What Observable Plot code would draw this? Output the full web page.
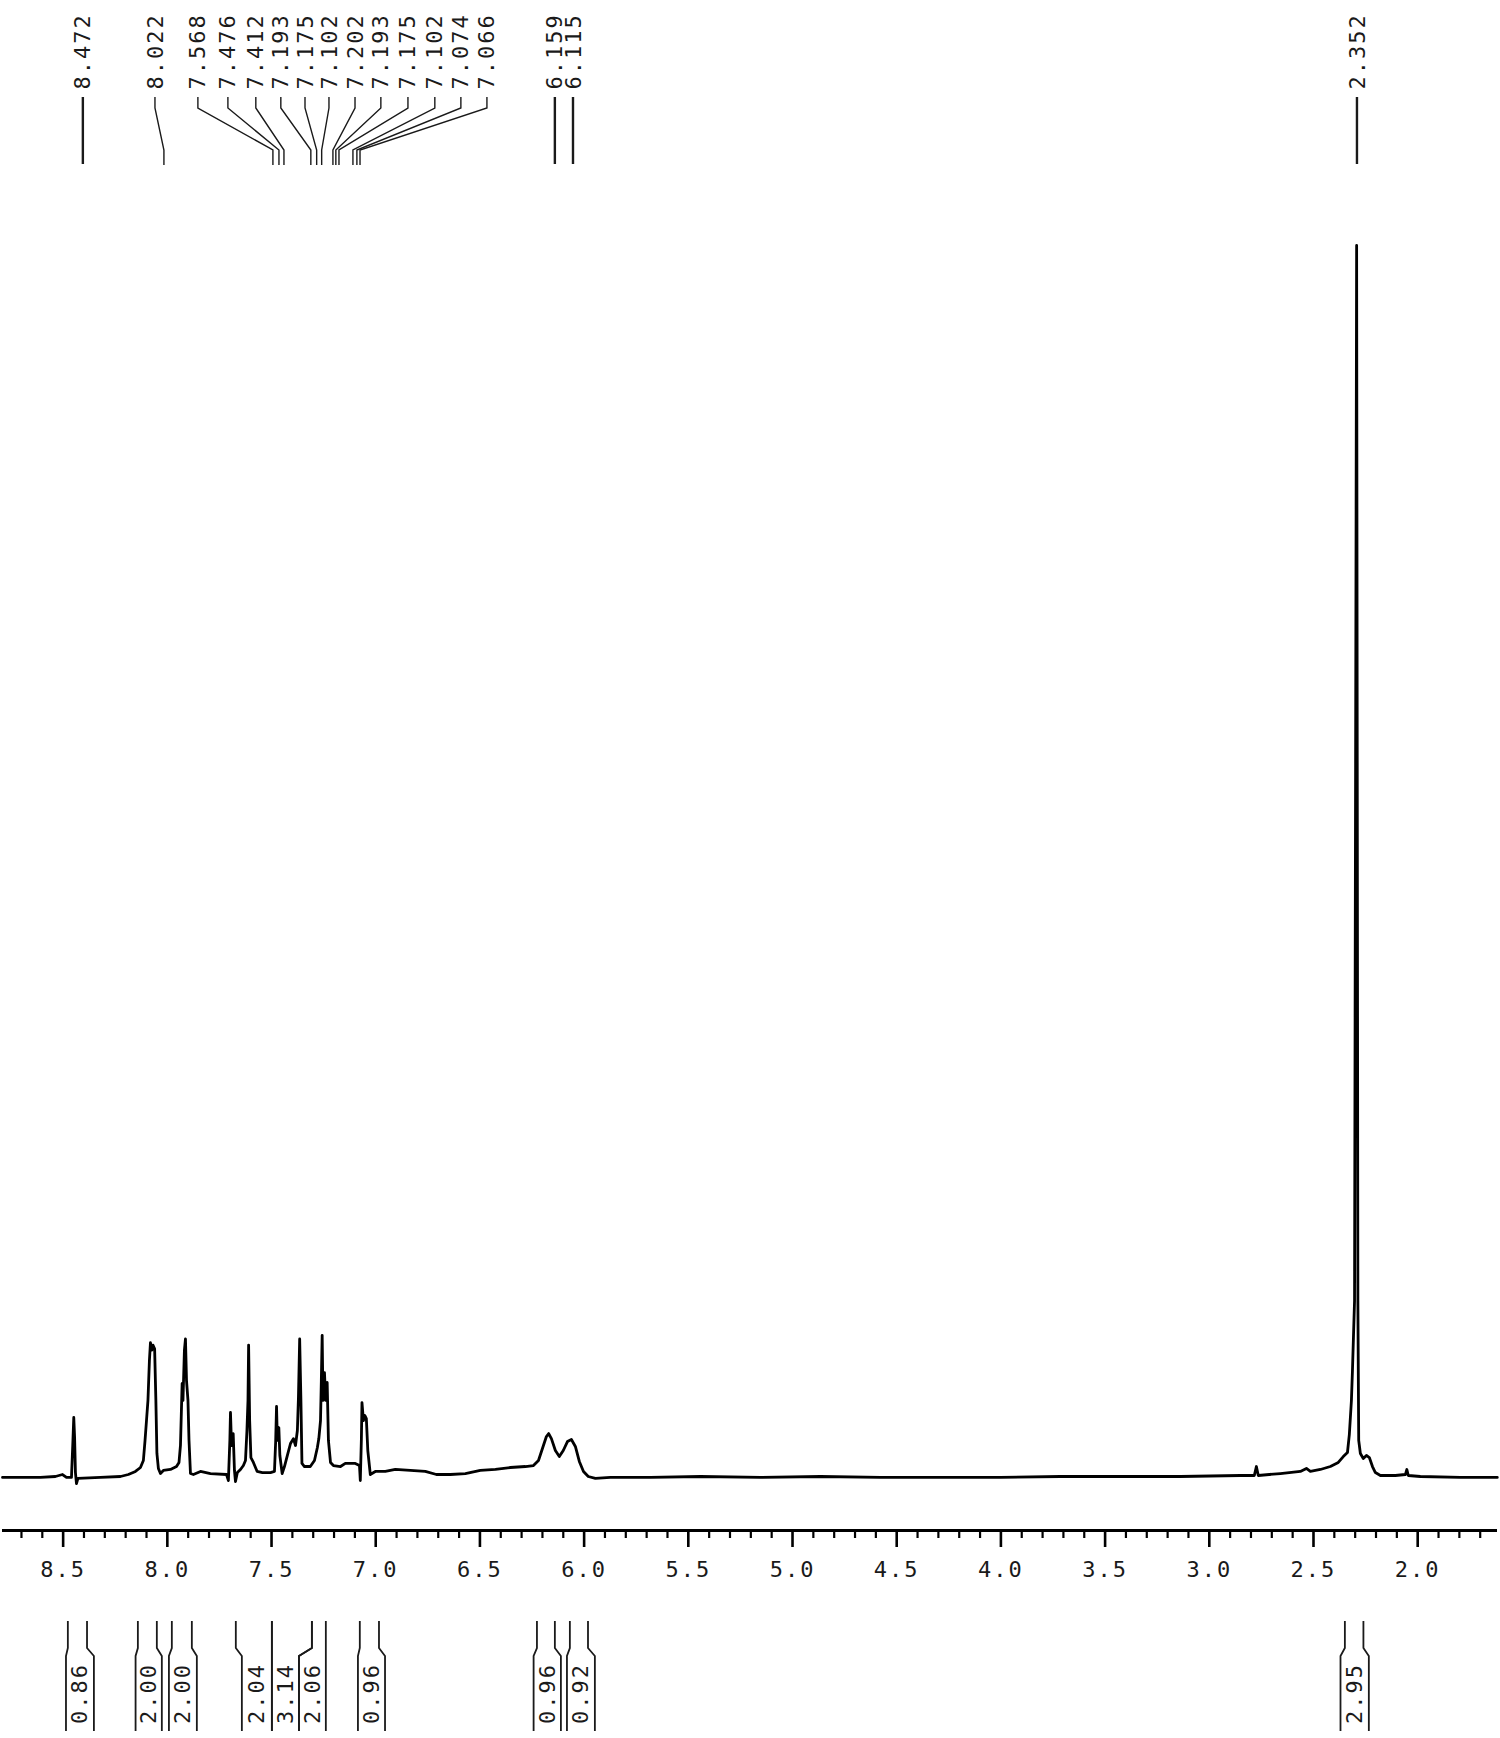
<!DOCTYPE html>
<html>
<head>
<meta charset="utf-8">
<script src="https://cdn.jsdelivr.net/npm/d3@7"></script>
<script src="https://cdn.jsdelivr.net/npm/@observablehq/plot@0.6"></script>
<style>
  html, body { margin: 0; padding: 0; background: #fff; }
  #chart svg { display: block; }
  #chart svg text { letter-spacing: 2px; }
</style>
</head>
<body>
<div id="chart"></div>
<script>
// ---- Spectrum trace (chemical shift in ppm, relative intensity) ----
const specPpm = [
  8.791, 8.609, 8.537, 8.503, 8.484, 8.460, 8.453, 8.449, 8.445, 8.441, 8.436, 8.429,
  8.321, 8.225, 8.187, 8.153, 8.129, 8.115, 8.107, 8.100, 8.093, 8.086, 8.081, 8.074,
  8.069, 8.061, 8.055, 8.050, 8.043, 8.033, 8.019, 7.985, 7.956, 7.944, 7.937, 7.929,
  7.925, 7.918, 7.913, 7.908, 7.901, 7.896, 7.889, 7.875, 7.841, 7.793, 7.716, 7.707,
  7.700, 7.697, 7.692, 7.684, 7.678, 7.673, 7.664, 7.649, 7.635, 7.625, 7.618, 7.613,
  7.610, 7.605, 7.599, 7.587, 7.569, 7.544, 7.505, 7.486, 7.480, 7.476, 7.472, 7.465,
  7.460, 7.449, 7.438, 7.424, 7.409, 7.395, 7.385, 7.376, 7.371, 7.365, 7.359, 7.354,
  7.342, 7.314, 7.294, 7.280, 7.273, 7.265, 7.261, 7.257, 7.253, 7.246, 7.240, 7.233,
  7.227, 7.217, 7.203, 7.169, 7.146, 7.098, 7.078, 7.074, 7.069, 7.066, 7.059, 7.052,
  7.045, 7.038, 7.026, 7.002, 6.954, 6.906, 6.834, 6.762, 6.709, 6.642, 6.570, 6.498,
  6.426, 6.354, 6.282, 6.243, 6.219, 6.200, 6.181, 6.170, 6.157, 6.138, 6.119, 6.100,
  6.080, 6.061, 6.042, 6.023, 6.003, 5.980, 5.946, 5.874, 5.682, 5.442, 5.154, 4.866,
  4.578, 4.291, 4.002, 3.715, 3.427, 3.139, 2.851, 2.784, 2.774, 2.765, 2.659, 2.563,
  2.534, 2.515, 2.467, 2.419, 2.381, 2.357, 2.337, 2.328, 2.318, 2.313, 2.303, 2.293,
  2.287, 2.283, 2.275, 2.261, 2.246, 2.232, 2.217, 2.203, 2.179, 2.107, 2.059, 2.052,
  2.045, 1.987, 1.795, 1.618
];
const specInt = [
  -0.16, -0.16, -0.08, 0.08, -0.16, -0.16, 2.85, 4.72, 3.09, 0.24, -0.65, -0.24,
  -0.16, -0.08, 0.08, 0.33, 0.65, 1.22, 2.85, 4.47, 6.10, 9.35, 10.8, 10.2,
  10.6, 10.3, 6.10, 1.79, 0.57, 0.16, 0.41, 0.49, 0.73, 1.06, 2.44, 7.48,
  6.10, 10.2, 11.1, 7.72, 6.10, 2.85, 0.16, 0.08, 0.33, 0.16, 0.08, -0.41,
  2.85, 5.12, 2.44, 3.41, 0.41, -0.49, 0.24, 0.49, 0.81, 1.22, 3.66, 6.10,
  10.6, 4.47, 1.46, 1.06, 0.33, 0.24, 0.24, 0.33, 2.85, 5.61, 2.85, 3.90,
  1.63, 0.16, 0.73, 1.63, 2.60, 3.00, 2.44, 3.66, 6.26, 11.1, 6.10, 0.98,
  0.73, 0.73, 1.22, 2.28, 3.00, 4.47, 7.72, 11.4, 6.10, 8.37, 6.10, 7.56,
  2.85, 1.06, 0.81, 0.73, 0.98, 0.98, 0.81, -0.41, 2.85, 5.93, 4.47, 4.88,
  4.63, 2.03, 0.08, 0.33, 0.33, 0.49, 0.41, 0.33, 0.08, 0.08, 0.16, 0.41,
  0.49, 0.65, 0.73, 0.81, 1.22, 2.20, 3.17, 3.41, 3.00, 2.03, 1.54, 2.03,
  2.76, 2.93, 2.36, 1.14, 0.33, -0.08, -0.24, -0.16, -0.16, -0.08, -0.16, -0.08,
  -0.16, -0.16, -0.16, -0.08, -0.08, -0.08, 0.00, 0.00, 0.73, 0.00, 0.16, 0.33,
  0.57, 0.33, 0.49, 0.73, 1.06, 1.54, 1.87, 3.33, 6.10, 8.54, 14.2, 100,
  14.2, 2.85, 1.79, 1.38, 1.63, 1.46, 0.73, 0.24, 0.00, 0.00, 0.08, 0.49,
  0.00, -0.08, -0.16, -0.16
];

// ---- Peak picking labels ----
const peakLabels = ["8.472", "8.022", "7.568", "7.476", "7.412", "7.193", "7.175", "7.102",
  "7.202", "7.193", "7.175", "7.102", "7.074", "7.066", "6.159", "6.115", "2.352"];
// where each label text sits (ppm on the axis)
const peakLabelPos = [8.403, 8.057, 7.851, 7.707, 7.573, 7.453, 7.337, 7.222,
  7.097, 6.973, 6.843, 6.714, 6.589, 6.464, 6.138, 6.051, 2.289];
// where each label's connector lands (ppm on the axis)
const peakTargetPos = [8.403, 8.014, 7.491, 7.462, 7.438, 7.309, 7.281, 7.257,
  7.203, 7.189, 7.174, 7.107, 7.088, 7.073, 6.138, 6.051, 2.289];

// ---- Axis ticks ----
const majorTicks = [8.5, 8.0, 7.5, 7.0, 6.5, 6.0, 5.5, 5.0, 4.5, 4.0, 3.5, 3.0, 2.5, 2.0];
const minorTicks = [8.7, 8.6, 8.4, 8.3, 8.2, 8.1, 7.9, 7.8, 7.7, 7.6, 7.4, 7.3, 7.2, 7.1,
  6.9, 6.8, 6.7, 6.6, 6.4, 6.3, 6.2, 6.1, 5.9, 5.8, 5.7, 5.6, 5.4, 5.3, 5.2, 5.1,
  4.9, 4.8, 4.7, 4.6, 4.4, 4.3, 4.2, 4.1, 3.9, 3.8, 3.7, 3.6, 3.4, 3.3, 3.2, 3.1,
  2.9, 2.8, 2.7, 2.6, 2.4, 2.3, 2.2, 2.1, 1.9, 1.8, 1.7];

// ---- Integrals ----
const integralValues = ["0.86", "2.00", "2.00", "2.04", "3.14", "2.06", "0.96", "0.96", "0.92", "2.95"];
const integralStart  = [8.475, 8.139, 7.976, 7.669, 7.496, 7.304, 7.074, 6.224, 6.066, 2.347];
const integralEnd    = [8.383, 8.048, 7.880, 7.496, 7.304, 7.237, 6.982, 6.138, 5.979, 2.258];
const integralBoxStart = [8.484, 8.150, 7.990, 7.640, 7.496, 7.366, 7.083, 6.240, 6.080, 2.368];
const integralBoxEnd   = [8.350, 8.024, 7.856, 7.496, 7.366, 7.237, 6.953, 6.109, 5.946, 2.232];

// ---- Build tables ----
const spectrum = specPpm.map((p, i) => ({ppm: p, intensity: specInt[i]}));
const labels = peakLabels.map((t, i) => ({text: t, pos: peakLabelPos[i], target: peakTargetPos[i]}));
const integrals = integralValues.map((v, i) => ({
  value: v, start: integralStart[i], end: integralEnd[i],
  boxStart: integralBoxStart[i], boxEnd: integralBoxEnd[i],
  mid: (integralBoxStart[i] + integralBoxEnd[i]) / 2
}));

const FONT = "'DejaVu Sans Mono', monospace";
const INK = "#1a1a1a";

// connectors from the peak labels to the peaks (x through Plot's x scale)
const labelConnectors = (index, scales) => {
  const x = scales.x;
  const g = d3.create("svg:g").attr("fill", "none").attr("stroke", INK);
  for (const d of labels) {
    const x0 = x(d.pos), x1 = x(d.target);
    const straight = Math.abs(x0 - x1) < 0.5;
    g.append("path")
      .attr("d", straight ? `M${x0},97V164` : `M${x0},97V108L${x1},150V165`)
      .attr("stroke-width", straight ? 2.4 : 1.4);
  }
  return g.node();
};

// integral brackets below the axis
const integralBrackets = (index, scales) => {
  const x = scales.x;
  const g = d3.create("svg:g").attr("fill", "none").attr("stroke", INK).attr("stroke-width", 1.8);
  for (const d of integrals) {
    g.append("path").attr("d", `M${x(d.start)},1621V1648L${x(d.boxStart)},1656V1731`);
    g.append("path").attr("d", `M${x(d.end)},1621V1648L${x(d.boxEnd)},1656V1731`);
  }
  return g.node();
};

const chart = Plot.plot({
  width: 1500,
  height: 1738,
  marginTop: 0,
  marginLeft: 2,
  marginRight: 3,
  marginBottom: 208,
  style: {background: "#fff", fontFamily: FONT},
  x: {domain: [8.791, 1.617], axis: null},
  y: {domain: [0, 100], range: [1475, 245], axis: null},
  marks: [
    // spectrum
    Plot.line(spectrum, {x: "ppm", y: "intensity", stroke: "#000", strokeWidth: 2.8, curve: "linear"}),
    // axis line
    Plot.ruleY([0], {dy: 55, stroke: "#000", strokeWidth: 3}),
    // ticks
    Plot.axisX(minorTicks, {tickSize: 8, tickFormat: () => "", stroke: "#000", strokeWidth: 2.2, label: null}),
    Plot.axisX(majorTicks, {tickSize: 17, tickPadding: 14, tickFormat: d => d.toFixed(1),
      fontSize: 22, fontFamily: FONT, fill: INK, stroke: "#000", strokeWidth: 2.6, label: null}),
    // peak labels
    Plot.text(labels, {x: "pos", text: "text", frameAnchor: "top", dy: 89, rotate: -90,
      textAnchor: "start", lineAnchor: "middle", fontSize: 22, fontFamily: FONT, fill: INK}),
    labelConnectors,
    // integrals
    integralBrackets,
    Plot.text(integrals, {x: "mid", text: "value", frameAnchor: "bottom", dy: 163, rotate: -90,
      textAnchor: "middle", lineAnchor: "middle", fontSize: 22, fontFamily: FONT, fill: INK})
  ]
});

document.getElementById("chart").appendChild(chart);
</script>
</body>
</html>
